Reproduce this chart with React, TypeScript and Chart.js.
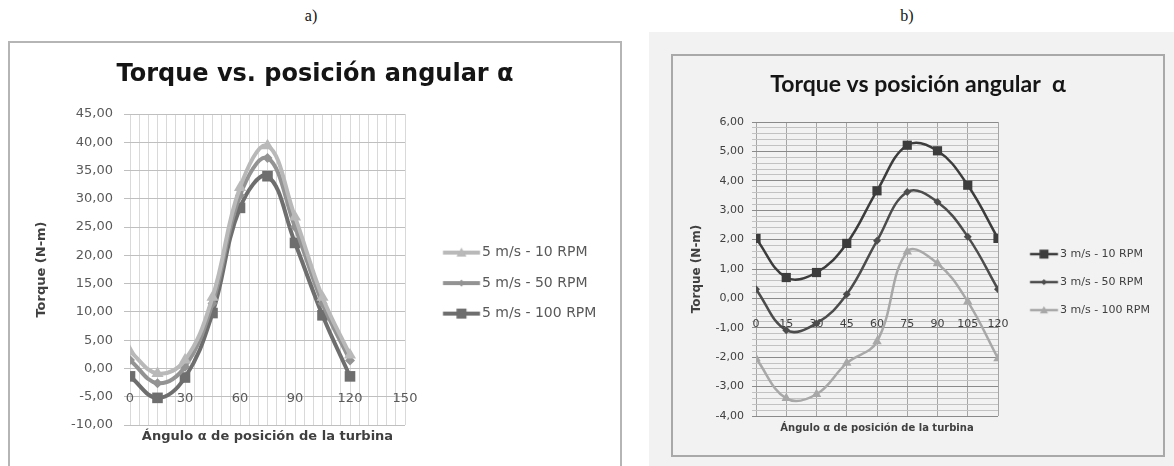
import React, { useEffect, useRef } from "react";
import { Chart, registerables, Legend } from "chart.js";

Chart.register(...registerables);

// Let the right-hand legend box take a fixed width (read from the canvas),
// so the plot area ends where the reference's plot area ends.
const LegendEl: any = (Legend as any)._element;
if (LegendEl && !LegendEl.prototype.__fixedFit) {
  const origFit = LegendEl.prototype.fit;
  LegendEl.prototype.fit = function () {
    origFit.call(this);
    const w = Number(this.chart?.canvas?.dataset?.legendWidth);
    if (w) this.width = w;
  };
  LegendEl.prototype.__fixedFit = true;
}

// ---------- data ----------
const anglesA = [0, 15, 30, 45, 60, 75, 90, 105, 120];
const a10 = [3.0, -0.9, 1.5, 12.6, 32.0, 39.4, 26.8, 12.6, 2.4];
const a50 = [1.5, -2.6, 0.3, 11.5, 30.6, 37.2, 25.0, 11.5, 1.4];
const a100 = [-1.4, -5.2, -1.6, 9.8, 28.4, 34.0, 22.2, 9.4, -1.4];
const seriesA = ["5 m/s - 10 RPM", "5 m/s - 50 RPM", "5 m/s - 100 RPM"];

const anglesB = [0, 15, 30, 45, 60, 75, 90, 105, 120];
const b10 = [2.04, 0.71, 0.88, 1.87, 3.66, 5.21, 5.02, 3.85, 2.04];
const b50 = [0.31, -1.08, -0.85, 0.14, 1.96, 3.62, 3.28, 2.1, 0.31];
const b100 = [-2.04, -3.4, -3.26, -2.2, -1.47, 1.59, 1.19, -0.11, -2.04];
const seriesB = ["3 m/s - 10 RPM", "3 m/s - 50 RPM", "3 m/s - 100 RPM"];

const titleA = "Torque vs. posición angular α";
const titleB = "Torque vs posición angular  α";
const xTitle = "Ángulo α de posición de la turbina";
const yTitle = "Torque (N-m)";

// ---------- helpers ----------
const fmt = (v: number) => v.toFixed(2).replace(".", ",");
const isInt = (v: number) => Math.abs(v - Math.round(v)) < 1e-6;

function makeIcon(
  w: number,
  h: number,
  x1: number,
  x2: number,
  color: string,
  lw: number,
  style: string,
  r: number
) {
  const c = document.createElement("canvas");
  c.width = w;
  c.height = h;
  const g = c.getContext("2d")!;
  const cy = h / 2;
  g.strokeStyle = color;
  g.lineWidth = lw;
  g.beginPath();
  g.moveTo(x1, cy);
  g.lineTo(x2, cy);
  g.stroke();
  g.fillStyle = color;
  const cx = (x1 + x2) / 2;
  g.beginPath();
  if (style === "rect") {
    g.rect(cx - r, cy - r, 2 * r, 2 * r);
  } else if (style === "rectRot") {
    g.moveTo(cx, cy - r);
    g.lineTo(cx + r, cy);
    g.lineTo(cx, cy + r);
    g.lineTo(cx - r, cy);
    g.closePath();
  } else {
    g.moveTo(cx, cy - r);
    g.lineTo(cx + r, cy + r * 0.8);
    g.lineTo(cx - r, cy + r * 0.8);
    g.closePath();
  }
  g.fill();
  return c;
}

const tickFontA = { family: "DejaVu Sans", size: 13 };
const tickFontB = { family: "DejaVu Sans", size: 11 };

function legendGen(icons: HTMLCanvasElement[]) {
  return (ch: any) => {
    const items = (Chart.defaults.plugins.legend.labels as any).generateLabels(ch);
    items.forEach((it: any, i: number) => {
      it.pointStyle = icons[i];
    });
    return items;
  };
}

function ChartA() {
  const ref = useRef<HTMLCanvasElement>(null);
  useEffect(() => {
    const colors = ["#b9b9b9", "#939393", "#6e6e6e"];
    const styles = ["triangle", "rectRot", "rect"];
    const radii = [7, 5, 7.5];
    const iconR = [5, 3.5, 5];
    const values = [a10, a50, a100];
    const icons = colors.map((c, i) =>
      makeIcon(66, 14, 27.75, 64.75, c, 4, styles[i], iconR[i])
    );
    ref.current!.dataset.legendWidth = "215";
    const chart = new Chart(ref.current!, {
      type: "line",
      data: {
        datasets: seriesA.map((label, i) => ({
          label,
          data: anglesA.map((x, k) => ({ x, y: values[i][k] })),
          borderColor: colors[i],
          backgroundColor: colors[i],
          borderWidth: 4,
          pointStyle: styles[i],
          pointRadius: radii[i],
          pointBorderWidth: 0,
          tension: 0.4,
          xAxisID: "x",
          yAxisID: "y",
        })),
      },
      options: {
        responsive: false,
        animation: false,
        devicePixelRatio: 1,
        plugins: {
          title: {
            display: true,
            text: titleA,
            font: { family: "DejaVu Sans", size: 24, weight: "bold" },
            color: "#151515",
            padding: { top: 17.6, bottom: 24.6 },
          },
          legend: {
            position: "right",
            title: { display: true, text: " ", font: { size: 1 }, padding: 28 },
            labels: {
              usePointStyle: true,
              pointStyleWidth: 53.5,
              padding: 16.5,
              font: { family: "DejaVu Sans", size: 14 },
              color: "#595959",
              generateLabels: legendGen(icons),
            },
          },
          tooltip: { enabled: false },
        },
        scales: {
          x: {
            type: "linear",
            min: 0,
            max: 150,
            position: "bottom",
            ticks: { display: false, stepSize: 5 },
            grid: { color: "#d9d9d9", drawTicks: false },
            border: { display: false },
            title: {
              display: true,
              text: xTitle,
              font: { family: "DejaVu Sans", size: 13, weight: "bold" },
              color: "#404040",
              padding: { top: 0, bottom: 21.2 },
            },
            afterFit: (s: any) => {
              s.height = 41;
            },
          },
          x2: {
            type: "linear",
            min: 0,
            max: 150,
            position: { y: 0 },
            ticks: { stepSize: 30, padding: 22, font: tickFontA, color: "#595959" },
            grid: { display: false, drawTicks: false },
            border: { display: false },
          },
          y: {
            type: "linear",
            min: -10,
            max: 45,
            ticks: {
              stepSize: 5,
              padding: 11,
              font: tickFontA,
              color: "#595959",
              callback: (v: any) => fmt(Number(v)),
            },
            grid: { color: "#bfbfbf", tickLength: 6 },
            border: { display: false },
            title: {
              display: true,
              text: yTitle,
              font: { family: "DejaVu Sans", size: 13, weight: "bold" },
              color: "#404040",
              padding: { top: 24, bottom: 0 },
            },
            afterFit: (s: any) => {
              s.width = 120;
            },
          },
        },
      } as any,
    });
    return () => chart.destroy();
  }, []);
  return <canvas ref={ref} width={610} height={423} />;
}

function ChartB() {
  const ref = useRef<HTMLCanvasElement>(null);
  useEffect(() => {
    const colors = ["#3c3c3c", "#4c4c4c", "#a8a8a8"];
    const styles = ["rect", "rectRot", "triangle"];
    const radii = [6.5, 4, 5.5];
    const iconR = [4.5, 3, 4];
    const values = [b10, b50, b100];
    const icons = colors.map((c, i) =>
      makeIcon(49, 12, 19.75, 47.75, c, 2.5, styles[i], iconR[i])
    );
    ref.current!.dataset.legendWidth = "165";
    const chart = new Chart(ref.current!, {
      type: "line",
      data: {
        datasets: seriesB.map((label, i) => ({
          label,
          data: anglesB.map((x, k) => ({ x, y: values[i][k] })),
          borderColor: colors[i],
          backgroundColor: colors[i],
          borderWidth: 2.5,
          pointStyle: styles[i],
          pointRadius: radii[i],
          pointBorderWidth: 0,
          tension: 0.4,
          xAxisID: "x",
          yAxisID: "y",
        })),
      },
      options: {
        responsive: false,
        animation: false,
        devicePixelRatio: 1,
        plugins: {
          title: {
            display: true,
            text: titleB,
            font: { family: "Lato", size: 23, weight: "bold" },
            color: "#151515",
            padding: { top: 15.2, bottom: 23.2 },
          },
          legend: {
            position: "right",
            title: { display: true, text: " ", font: { size: 1 }, padding: 26 },
            labels: {
              usePointStyle: true,
              pointStyleWidth: 39.5,
              padding: 17,
              font: { family: "DejaVu Sans", size: 11 },
              color: "#404040",
              generateLabels: legendGen(icons),
            },
          },
          tooltip: { enabled: false },
        },
        scales: {
          x: {
            type: "linear",
            min: 0,
            max: 120,
            position: "bottom",
            ticks: { display: false, stepSize: 15 },
            grid: { color: "#a6a6a6", drawTicks: false },
            border: { display: false },
            title: {
              display: true,
              text: xTitle,
              font: { family: "DejaVu Sans", size: 10, weight: "bold" },
              color: "#404040",
              padding: { top: 0, bottom: 21 },
            },
            afterFit: (s: any) => {
              s.height = 39;
            },
          },
          x2: {
            type: "linear",
            min: 0,
            max: 120,
            position: { y: 0 },
            ticks: { stepSize: 15, padding: 19, font: tickFontB, color: "#404040" },
            grid: { display: false, drawTicks: false },
            border: { display: false },
          },
          y: {
            type: "linear",
            min: -4,
            max: 6,
            ticks: {
              stepSize: 0.2,
              autoSkip: false,
              padding: 8,
              font: tickFontB,
              color: "#404040",
              callback: (v: any) => (isInt(Number(v)) ? fmt(Math.round(Number(v))) : ""),
            },
            grid: {
              tickLength: 4,
              color: (ctx: any) =>
                ctx.tick && isInt(ctx.tick.value) ? "#8a8a8a" : "#c2c2c2",
            },
            border: { display: false },
            title: {
              display: true,
              text: yTitle,
              font: { family: "DejaVu Sans", size: 12, weight: "bold" },
              color: "#404040",
              padding: { top: 16.8, bottom: 0 },
            },
            afterFit: (s: any) => {
              s.width = 83;
            },
          },
        },
      } as any,
    });
    return () => chart.destroy();
  }, []);
  return <canvas ref={ref} width={490} height={399} />;
}

export default function App() {
  return (
    <div
      style={{
        position: "fixed",
        left: 0,
        top: 0,
        width: 1174,
        height: 466,
        background: "#ffffff",
        overflow: "hidden",
      }}
    >
      <div
        style={{
          position: "absolute",
          left: 291,
          top: 7,
          width: 40,
          textAlign: "center",
          fontFamily: "Liberation Serif",
          fontSize: 16,
          color: "#111",
        }}
      >
        a)
      </div>
      <div
        style={{
          position: "absolute",
          left: 887,
          top: 7,
          width: 40,
          textAlign: "center",
          fontFamily: "Liberation Serif",
          fontSize: 16,
          color: "#111",
        }}
      >
        b)
      </div>
      <div
        style={{
          position: "absolute",
          left: 8,
          top: 41,
          width: 614,
          height: 440,
          boxSizing: "border-box",
          border: "2px solid #b5b5b5",
          background: "#ffffff",
        }}
      >
        <div style={{ position: "absolute", left: 0, top: 0 }}>
          <ChartA />
        </div>
      </div>
      <div
        style={{
          position: "absolute",
          left: 649,
          top: 32,
          width: 525,
          height: 434,
          background: "#f2f2f2",
        }}
      >
        <div
          style={{
            position: "absolute",
            left: 22,
            top: 22,
            width: 494,
            height: 403,
            boxSizing: "border-box",
            border: "2px solid #a9a9a9",
          }}
        >
          <div style={{ position: "absolute", left: 0, top: 0 }}>
            <ChartB />
          </div>
        </div>
      </div>
    </div>
  );
}
